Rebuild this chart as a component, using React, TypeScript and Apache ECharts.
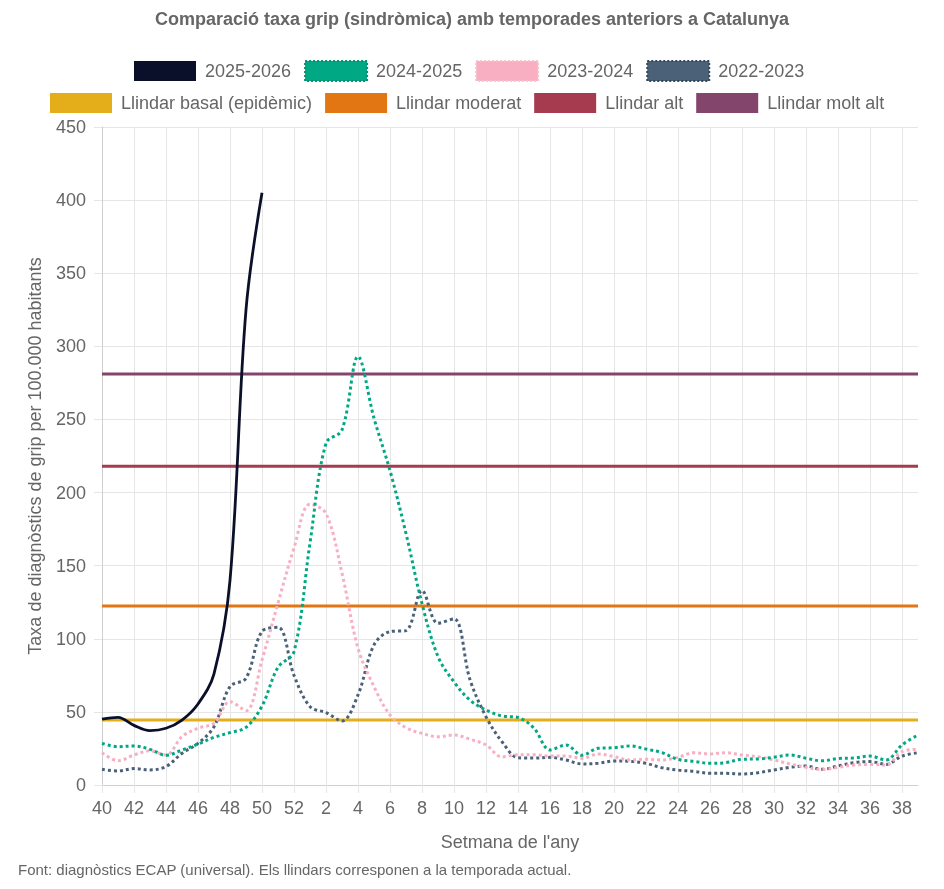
import React, { useEffect, useRef } from "react";
import * as echarts from "echarts";

const weeks = [
  "40", "41", "42", "43", "44", "45", "46", "47", "48", "49", "50", "51", "52",
  "1", "2", "3", "4", "5", "6", "7", "8", "9", "10", "11", "12", "13", "14", "15",
  "16", "17", "18", "19", "20", "21", "22", "23", "24", "25", "26", "27", "28",
  "29", "30", "31", "32", "33", "34", "35", "36", "37", "38", "39",
];

const season2526 = [45, 46.3, 40.8, 37.2, 38.8, 44.4, 55.4, 76, 140, 325, 405];

const season2425 = [
  28.5, 26.2, 26.7, 24.4, 20.3, 23.9, 28, 32.6, 35.8, 39.4, 54, 80.5, 91.2,
  165.5, 233.7, 242.8, 293, 250.8, 215, 172, 124, 87.8, 70.5, 58, 51.3, 47.2, 46.2, 38.8,
  24, 27.4, 20.3, 25.1, 25.5, 26.7, 24.6, 22.1, 17.5, 16.2, 14.8, 15.3, 17.6,
  17.8, 19, 20.5, 18.3, 16.5, 18.1, 18.5, 19.8, 17.1, 27.4, 34.2,
];

const season2324 = [
  22.1, 16.6, 20.5, 23.4, 20.5, 33.1, 38.8, 42.2, 57, 50.8, 85.5, 124.4, 162,
  192, 185.7, 144.8, 93.5, 67.3, 47.9, 39.2, 35.3, 33, 34.2, 31.3, 27.4, 19.2, 20.7, 20.7,
  19.8, 19.8, 18.2, 21.2, 19.4, 17.1, 17.6, 17.1, 18.9, 22.1, 21.2, 22.1, 20.5,
  19.4, 17.1, 14.4, 12.1, 10.6, 12.1, 13.7, 14.1, 13.7, 22.8, 24.4,
];

const season2223 = [
  10.7, 9.6, 11.2, 10.3, 12.6, 21.7, 28.5, 39.9, 67.3, 73, 105, 107.8, 75,
  53.6, 49.5, 43.8, 61.6, 95.8, 104.9, 105.6, 133, 110.6, 113.6, 72, 46.7, 29.6, 18.7, 18.4,
  18.9, 17.1, 14.4, 14.8, 16.4, 16.2, 14.8, 11.8, 10.2, 9.3, 8, 8, 7.5,
  8.4, 10.3, 12.1, 13, 10.7, 13, 15.3, 16, 14.1, 19.8, 22.1,
];

const thresholdNames = [
  "Llindar basal (epidèmic)",
  "Llindar moderat",
  "Llindar alt",
  "Llindar molt alt",
];
const thresholdValues = [44.5, 122.5, 218, 281];
const thresholdColors = ["#e3ae1a", "#e27612", "#a63b50", "#84456d"];

const seasonNames = ["2025-2026", "2024-2025", "2023-2024", "2022-2023"];
const seasonColors = ["#0a1029", "#00a884", "#f9afc2", "#4a6178"];
const seasonBorders = ["#0a1029", "#0b8e6e", "#f4c3d0", "#34475a"];

const FONT = "'Liberation Sans', Arial, Helvetica, sans-serif";
const TEXT = "#666666";
const GRID = "#e6e6e6";

export default function App() {
  const ref = useRef<HTMLDivElement>(null);

  useEffect(() => {
    if (!ref.current) return;
    const chart = echarts.init(ref.current, null, { renderer: "svg" });

    const seasonData = [season2526, season2425, season2324, season2223];

    const thresholdSeries = thresholdNames
      .map((name, i) => ({
        name,
        type: "line",
        data: weeks.map(() => thresholdValues[i]),
        showSymbol: false,
        symbol: "none",
        color: thresholdColors[i],
        lineStyle: { width: 3, color: thresholdColors[i] },
        itemStyle: { color: thresholdColors[i] },
        silent: true,
        z: 2,
      }))
      .reverse();

    const seasonSeries = seasonNames
      .map((name, i) => ({
        name,
        type: "line",
        data: seasonData[i],
        showSymbol: false,
        symbol: "none",
        smooth: 0.35,
        color: seasonColors[i],
        lineStyle: {
          width: i === 0 ? 2.8 : 3,
          color: seasonColors[i],
          type: i === 0 ? "solid" : [3, 3],
        },
        itemStyle: { color: seasonColors[i] },
        z: 3,
      }))
      .reverse();

    const legendText = {
      fontSize: 18,
      color: TEXT,
      fontFamily: FONT,
      padding: [0, 0, 0, 4],
    };

    chart.setOption({
      animation: false,
      title: {
        text: "Comparació taxa grip (sindròmica) amb temporades anteriors a Catalunya",
        left: "center",
        top: 5,
        textStyle: {
          fontSize: 18,
          fontWeight: "bold",
          color: TEXT,
          fontFamily: FONT,
        },
      },
      legend: [
        {
          data: seasonNames.map((n, i) => ({
            name: n,
            itemStyle:
              i === 0
                ? { color: seasonColors[i], borderWidth: 0 }
                : {
                    color: seasonColors[i],
                    borderColor: seasonBorders[i],
                    borderWidth: 2,
                    borderType: [2, 2],
                  },
          })),
          left: 134,
          top: 60,
          padding: 0,
          icon: "rect",
          itemWidth: 62,
          itemHeight: 20,
          itemGap: 13,
          textStyle: legendText,
          selectedMode: false,
        },
        {
          data: thresholdNames.map((n, i) => ({
            name: n,
            itemStyle: { color: thresholdColors[i], borderWidth: 0 },
          })),
          left: 50,
          top: 93,
          padding: 0,
          icon: "rect",
          itemWidth: 62,
          itemHeight: 20,
          itemGap: 13,
          textStyle: legendText,
          selectedMode: false,
        },
      ],
      grid: { left: 102, right: 26, top: 127, bottom: 104, containLabel: false },
      xAxis: {
        type: "category",
        data: weeks,
        boundaryGap: false,
        name: "Setmana de l'any",
        nameLocation: "middle",
        nameGap: 48,
        nameTextStyle: { fontSize: 18, color: TEXT, fontFamily: FONT },
        axisLine: { lineStyle: { color: "#cfcfcf", width: 1 } },
        axisTick: { show: true, interval: 1, length: 8, lineStyle: { color: GRID } },
        axisLabel: {
          interval: 1,
          fontSize: 18,
          color: TEXT,
          fontFamily: FONT,
          margin: 14,
        },
        splitLine: { show: true, interval: 1, lineStyle: { color: GRID, width: 1 } },
      },
      yAxis: {
        type: "value",
        min: 0,
        max: 450,
        interval: 50,
        name: "Taxa de diagnòstics de grip per 100.000 habitants",
        nameLocation: "middle",
        nameGap: 58,
        nameTextStyle: { fontSize: 18, color: TEXT, fontFamily: FONT },
        axisLine: { show: true, lineStyle: { color: "#cfcfcf", width: 1 } },
        axisTick: { show: true, length: 8, lineStyle: { color: GRID } },
        axisLabel: { fontSize: 18, color: TEXT, fontFamily: FONT, margin: 16 },
        splitLine: { show: true, lineStyle: { color: GRID, width: 1 } },
      },
      graphic: [
        {
          type: "text",
          left: 18,
          top: 862,
          style: {
            text: "Font: diagnòstics ECAP (universal). Els llindars corresponen a la temporada actual.",
            fontSize: 15,
            fill: TEXT,
            fontFamily: FONT,
          },
        },
      ],
      series: [...thresholdSeries, ...seasonSeries],
    });

    return () => chart.dispose();
  }, []);

  return (
    <div
      ref={ref}
      style={{ position: "fixed", left: 0, top: 0, width: 944, height: 889 }}
    />
  );
}
